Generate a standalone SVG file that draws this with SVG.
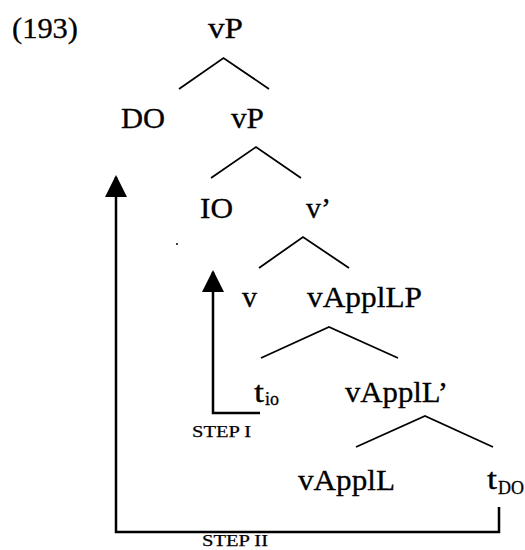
<svg xmlns="http://www.w3.org/2000/svg" width="525" height="550" viewBox="0 0 525 550">
  <style>
    text { font-family: "Liberation Serif", "Times New Roman", serif; fill: #000; stroke: #000; stroke-width: 0.3; }
    .lbl { font-size: 30px; }
    .sub { font-size: 19px; }
    .step { font-size: 17px; stroke-width: 0.25; }
    .branch { fill: none; stroke: #000; stroke-width: 1.8; stroke-linejoin: miter; }
    .move { fill: none; stroke: #000; stroke-width: 2.5; }
  </style>
  <defs>
    <marker id="head" viewBox="0 0 22 22" refX="20" refY="11" markerWidth="22" markerHeight="22" markerUnits="userSpaceOnUse" orient="auto">
      <path d="M0,0 L22,11 L0,22 z" fill="#000"/>
    </marker>
  </defs>
  <rect width="525" height="550" fill="#fff"/>

  <text id="exnum" class="lbl" x="12" y="38" textLength="66" lengthAdjust="spacingAndGlyphs">(193)</text>

  <g id="n-vP1"><text class="lbl" x="208" y="38" textLength="35" lengthAdjust="spacingAndGlyphs">vP</text></g>
  <g id="n-DO"><text class="lbl" x="121" y="128" textLength="44" lengthAdjust="spacingAndGlyphs">DO</text></g>
  <g id="n-vP2"><text class="lbl" x="231" y="128" textLength="33" lengthAdjust="spacingAndGlyphs">vP</text></g>
  <g id="n-IO"><text class="lbl" x="200" y="218" textLength="33" lengthAdjust="spacingAndGlyphs">IO</text></g>
  <g id="n-vbar"><text class="lbl" x="306" y="218" textLength="25" lengthAdjust="spacingAndGlyphs">v’</text></g>
  <g id="n-v"><text class="lbl" x="242" y="307" textLength="15" lengthAdjust="spacingAndGlyphs">v</text></g>
  <g id="n-vApplLP"><text class="lbl" x="307" y="307" textLength="115" lengthAdjust="spacingAndGlyphs">vApplLP</text></g>
  <g id="n-tio"><text class="lbl" x="254" y="402" textLength="10" lengthAdjust="spacingAndGlyphs">t</text><text class="sub" x="265" y="405" textLength="14" lengthAdjust="spacingAndGlyphs">io</text></g>
  <g id="n-vApplLbar"><text class="lbl" x="345" y="402" textLength="103" lengthAdjust="spacingAndGlyphs">vApplL’</text></g>
  <g id="n-vApplL"><text class="lbl" x="298" y="490" textLength="97" lengthAdjust="spacingAndGlyphs">vApplL</text></g>
  <g id="n-tDO"><text class="lbl" x="487" y="489" textLength="10" lengthAdjust="spacingAndGlyphs">t</text><text class="sub" x="498" y="494" textLength="26" lengthAdjust="spacingAndGlyphs">DO</text></g>

  <g id="connectors">
    <polyline class="branch" points="179,89 223.5,58 269,89"/>
    <polyline class="branch" points="211,178 256,147 301,178"/>
    <polyline class="branch" points="259,268 303,237 349,268"/>
    <polyline class="branch" points="261,358 329,327 398,358"/>
    <polyline class="branch" points="356,447 425,416 493,447"/>
    <path class="move" d="M260,413 H213 V272" marker-end="url(#head)"/>
    <path class="move" d="M499,507 V532 H116 V177" marker-end="url(#head)"/>
  </g>

  <text class="step" x="192" y="437" textLength="59" lengthAdjust="spacingAndGlyphs">STEP I</text>
  <text class="step" x="202" y="546" textLength="66" lengthAdjust="spacingAndGlyphs">STEP II</text>
  <circle cx="177" cy="244" r="1" fill="#000"/>
</svg>
